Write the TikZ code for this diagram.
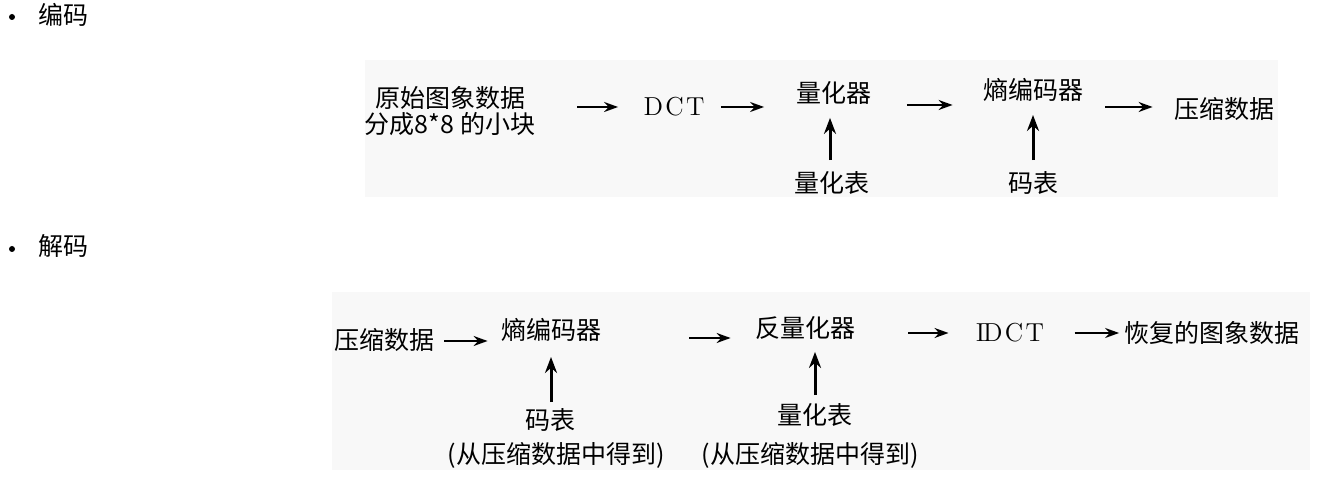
\documentclass[tikz,border=0pt]{standalone}
\usepackage{fontspec}
\newfontfamily\cjk{Noto Sans CJK SC}
\usetikzlibrary{arrows.meta}
\definecolor{panel}{RGB}{248,248,248}
\begin{document}
\begin{tikzpicture}[x=0.5pt,y=-0.5pt,
  lbl/.style={inner sep=0pt, font=\cjk\fontsize{12.5}{11.5}\selectfont},
  lat/.style={inner sep=0pt, font=\fontsize{13}{15}\selectfont},
  arr/.style={line width=1pt, -{Stealth[length=7pt,width=5pt]}},
  uarr/.style={line width=1.5pt, -{Stealth[length=8pt,width=6pt]}}]
\useasboundingbox (0,0) rectangle (1320,485);
\fill[panel] (365,60) rectangle (1278,197);
\fill[panel] (332,292) rectangle (1310,470);
% headings
\fill (12,17) circle (3);
\node[lbl] (h1) at (63,15) {编码};
\fill (12,249) circle (3);
\node[lbl] (h2) at (63,246) {解码};
% encoding row
\node[lbl, align=center] (src) at (450,111) {原始图象数据\\分成8*8 的小块};
\node[lat] (dct) at (674,107) {D\kern1.2pt C\kern1.2pt T};
\node[lbl] (q) at (834,93) {量化器};
\node[lbl] (qt) at (832,183) {量化表};
\node[lbl] (ent) at (1033,90) {熵编码器};
\node[lbl] (ct) at (1033,183) {码表};
\node[lbl] (cmp) at (1224,109) {压缩数据};
\draw[arr, shorten <=21pt, shorten >=12.5pt] (src.east |- dct.west) -- (dct.west);
\draw[arr, shorten <=8pt, shorten >=16pt] (dct.east) -- (dct.east -| q.west);
\draw[arr, shorten <=17.5pt, shorten >=15pt] (q.east |- 0,105) -- (ent.west |- 0,105);
\draw[arr, shorten <=11pt, shorten >=10.5pt] (ent.east |- 0,107) -- (cmp.west |- 0,107);
\draw[uarr, shorten <=5.5pt, shorten >=6.5pt] (qt.north -| 830,0) -- (q.south -| 830,0);
\draw[uarr, shorten <=5.5pt, shorten >=6.5pt] (ct.north) -- (ent.south);
% decoding row
\node[lbl] (cmp2) at (384,340) {压缩数据};
\node[lbl] (ent2) at (551,330) {熵编码器};
\node[lbl] (ct2) at (550,420) {码表};
\node[lbl] (n1) at (556,455) {(从压缩数据中得到)};
\node[lbl] (deq) at (805,328) {反量化器};
\node[lbl] (qt2) at (815,415) {量化表};
\node[lbl] (n2) at (810,455) {(从压缩数据中得到)};
\node[lat] (idct) at (1010,333) {I\kern-1pt D\kern1.2pt C\kern1.2pt T};
\node[lbl] (rec) at (1212,333) {恢复的图象数据};
\draw[arr, shorten <=5pt, shorten >=6.5pt] (cmp2.east |- 0,341) -- (ent2.west |- 0,341);
\draw[arr, shorten <=44pt, shorten >=12pt] (ent2.east |- 0,338) -- (deq.west |- 0,338);
\draw[arr, shorten <=26.5pt, shorten >=13.5pt] (deq.east |- idct.west) -- (idct.west);
\draw[arr, shorten <=15pt, shorten >=2.5pt] (idct.east) -- (idct.east -| rec.west);
\draw[uarr, shorten <=3pt, shorten >=7.5pt] (ct2.north -| ent2.south) -- (ent2.south);
\draw[uarr, shorten <=4pt, shorten >=6pt] (qt2.north) -- (qt2.north |- deq.south);
\end{tikzpicture}
\end{document}
